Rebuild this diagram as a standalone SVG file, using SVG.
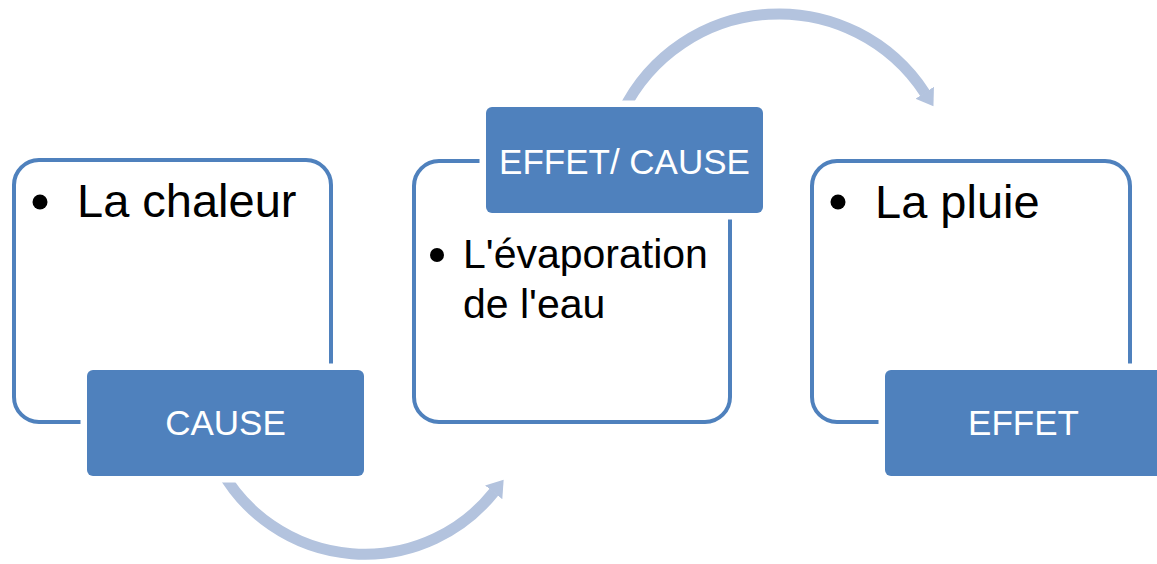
<svg xmlns="http://www.w3.org/2000/svg" width="1157" height="564" viewBox="0 0 1157 564">
  <style>
    .frame { fill: #ffffff; stroke: #4f81bd; stroke-width: 4; }
    .label { fill: #4f81bd; stroke: #ffffff; stroke-width: 13; paint-order: stroke; }
    .body { font-family: "Liberation Sans", Arial, sans-serif; fill: #000000; }
    .ltext { font-family: "Liberation Sans", Arial, sans-serif; fill: #ffffff; font-size: 35px; text-anchor: middle; }
    .bullet { fill: #000000; }
    .arc { fill: none; stroke: #b3c3de; stroke-width: 11; }
  </style>
  <defs>
    <marker id="head" viewBox="0 -12 18 24" markerWidth="18" markerHeight="24" refX="0.5" refY="0" orient="auto" markerUnits="userSpaceOnUse">
      <path d="M0,-11 L16,0 L0,11 Z" fill="#b3c3de"/>
    </marker>
  </defs>
  <rect width="1157" height="564" fill="#ffffff"/>
  <g id="connectors">
    <path class="arc" d="M221,470 A165,165 0 0 0 494,492" marker-end="url(#head)"/>
    <path class="arc" d="M622.5,112 A174,174 0 0 1 925,93.2" marker-end="url(#head)"/>
  </g>
  <g id="node-cause">
    <rect class="frame" x="14" y="160" width="317" height="262" rx="25"/>
    <circle class="bullet" cx="40" cy="202" r="7.5"/>
    <text class="body" x="77" y="217" font-size="47">La chaleur</text>
    <rect class="label" x="87" y="370" width="277" height="106" rx="6"/>
    <text class="ltext" x="225.5" y="435">CAUSE</text>
  </g>
  <g id="node-effet-cause">
    <rect class="frame" x="414" y="161" width="316" height="261" rx="25"/>
    <circle class="bullet" cx="437" cy="255" r="7"/>
    <text class="body" x="463" y="268" font-size="41">L'évaporation</text>
    <text class="body" x="463" y="318" font-size="41">de l'eau</text>
    <rect class="label" x="486" y="107" width="277" height="106" rx="6"/>
    <text class="ltext" x="624.5" y="174">EFFET/ CAUSE</text>
  </g>
  <g id="node-effet">
    <rect class="frame" x="812" y="161" width="318" height="261" rx="25"/>
    <circle class="bullet" cx="838" cy="202" r="7.5"/>
    <text class="body" x="875" y="218" font-size="47">La pluie</text>
    <rect class="label" x="885" y="370" width="277" height="106" rx="6"/>
    <text class="ltext" x="1023.5" y="435">EFFET</text>
  </g>
</svg>
